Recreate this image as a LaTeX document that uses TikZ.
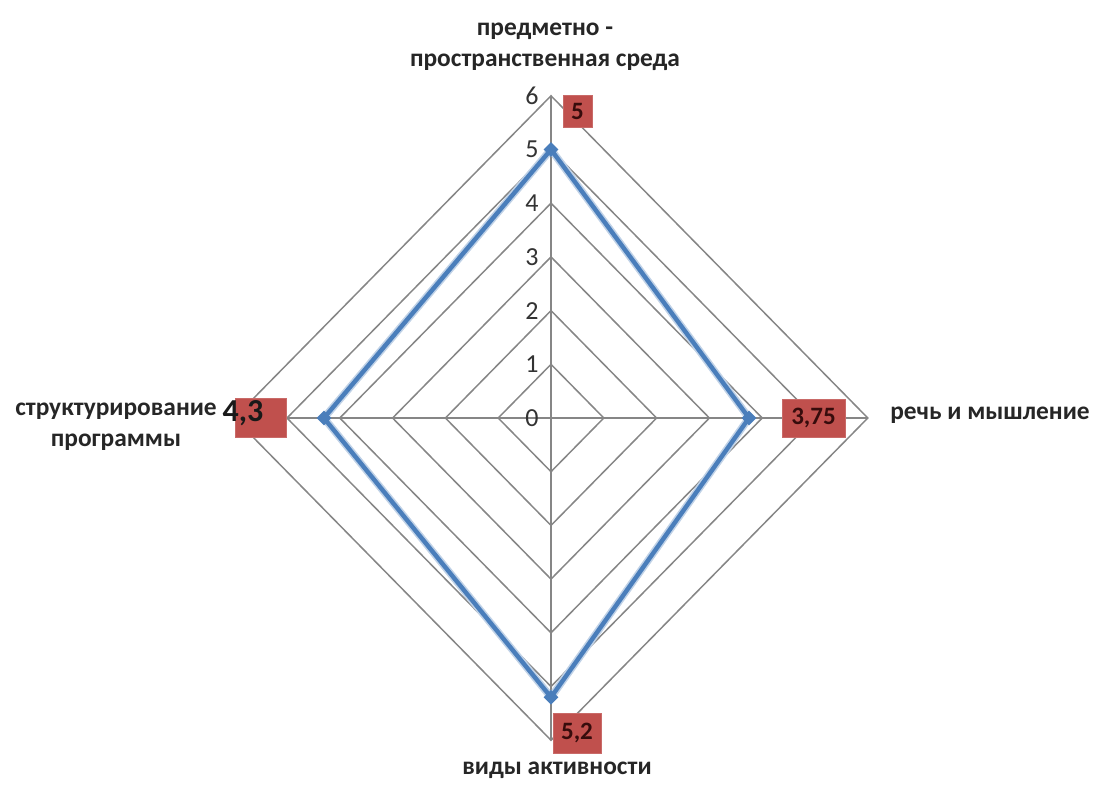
\documentclass[tikz,border=0pt]{standalone}
\usepackage{fontspec}
\setmainfont{Carlito}
\usetikzlibrary{calc,positioning,shapes.geometric}
\definecolor{gridgray}{RGB}{134,134,134}
\definecolor{serblue}{RGB}{74,126,187}
\definecolor{boxred}{RGB}{192,80,77}
\definecolor{boxtext}{RGB}{55,12,12}

\begin{document}
\begin{tikzpicture}[x=0.5pt,y=-0.5pt,
    axlabel/.style={font=\fontsize{12.7}{15.5}\selectfont\bfseries,align=center,text=black!85,inner sep=0pt},
    tick/.style={font=\fontsize{13}{15}\selectfont,text=black!80,anchor=east,inner sep=0pt,xshift=-6pt},
    val/.style={fill=boxred,draw=boxred!85!white,text=boxtext,font=\fontsize{12.5}{14}\selectfont\bfseries,inner sep=0pt},
    pt/.style={diamond,fill=serblue,inner sep=0pt,minimum size=7.5pt},
    grid/.style={draw=gridgray,line width=0.75pt}]
    \useasboundingbox (0,0) rectangle (1098,788);
    \begin{scope}[shift={(551,418)},x=26.4pt,y=26.85pt]
        \foreach \r in {1,...,6}
            \draw[grid] (\r,0) -- (0,\r) -- (-\r,0) -- (0,-\r) -- cycle;
        \coordinate (top) at (0,6);
        \coordinate (bot) at (0,-6);
        \coordinate (lft) at (-6,0);
        \coordinate (rgt) at (6,0);
        \draw[grid] (top) -- (bot);
        \draw[grid] (lft) -- (rgt);
        \foreach \r in {0,...,6}
            \node[tick] (t\r) at (0,\r) {\r};
        \coordinate (va) at (0,5);
        \coordinate (vb) at (3.75,0);
        \coordinate (vc) at (0,-5.2);
        \coordinate (vd) at (-4.3,0);
        \draw[serblue!35,line width=3.8pt,line join=round] (va) -- (vb) -- (vc) -- (vd) -- cycle;
        \draw[serblue,line width=2.2pt,line join=round] (va) -- (vb) -- (vc) -- (vd) -- cycle;
        \node[pt] (pa) at (va) {};
        \node[pt] (pb) at (vb) {};
        \node[pt] (pc) at (vc) {};
        \node[pt] (pd) at (vd) {};
    \end{scope}

    \node[val,minimum width=14.5pt,minimum height=16pt] (ba) at (577.5,111) {5};
    \node[val,minimum width=31.5pt,minimum height=19pt] (bb) at (813.5,418) {3,75};
    \node[val,minimum width=24pt,minimum height=20pt] (bc) at (577,733) {5,2};
    \node[val,minimum width=25.5pt,minimum height=19.5pt] (bd) at (260.5,417.5) {};
    \node[font=\fontsize{16}{18}\selectfont\bfseries,text=black!90,inner sep=0pt] (nd) at (243,413) {4,3};

    \node[axlabel] (ltop) at (545,47) {предметно -\\пространственная среда};
    \node[axlabel] (lrgt) at (990,415) {речь и мышление};
    \node[axlabel] (llft) at (116,427) {структурирование\\программы};
    \node[axlabel] (lbot) at (557,770) {виды активности};
\end{tikzpicture}
\end{document}
